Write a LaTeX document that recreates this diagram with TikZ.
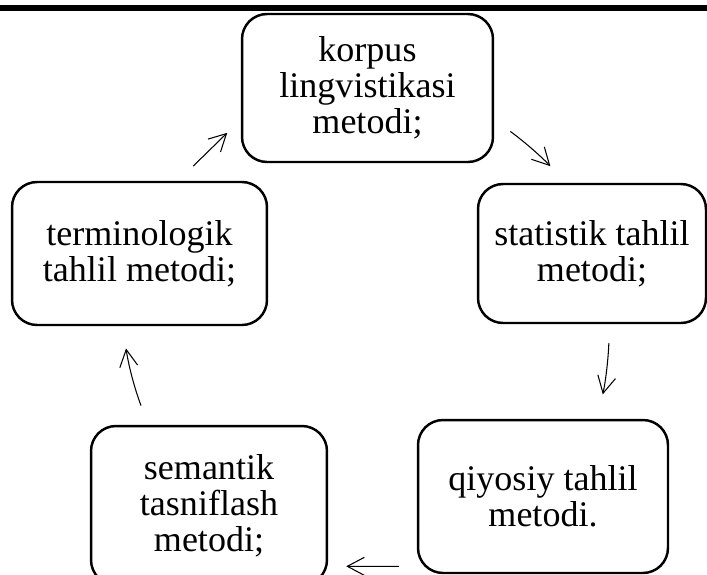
\documentclass[tikz,border=0pt]{standalone}
\usepackage{fontspec}
\setmainfont{Liberation Serif}
\usetikzlibrary{arrows.meta, positioning, calc}

\begin{document}
\begin{tikzpicture}[
  x=0.02cm, y=-0.02cm,
  % Base style for boxes
  methodbox/.style={draw, line width=1.4pt, rounded corners=0.5cm, align=center,
    inner sep=2pt, font=\fontsize{20.5}{20.5}\selectfont},
  % Thin arrows between boxes
  flowarrow/.style={-{Straight Barb[length=3.4mm, width=3.6mm]}, line width=0.6pt},
]

  % Page frame and top rule
  \path[use as bounding box] (0,0) rectangle (707,575);
  \draw[line width=0.11cm] (0,8) -- (707,8);

  % Method boxes
  \node[methodbox, minimum width=5.02cm, minimum height=2.96cm] (korpus) at (367.5,88) {korpus\\lingvistikasi\\metodi;};
  \node[methodbox, minimum width=4.56cm, minimum height=2.78cm] (statistik) at (592,253.5) {statistik tahlil\\metodi;};
  \node[methodbox, minimum width=5.0cm, minimum height=3.06cm] (qiyosiy) at (543,496.5) {qiyosiy tahlil\\metodi.};
  \node[methodbox, minimum width=4.72cm, minimum height=3.18cm] (semantik) at (209,505.5) {semantik\\tasniflash\\metodi;};
  \node[methodbox, minimum width=5.1cm, minimum height=2.86cm] (terminologik) at (139.5,253.5) {terminologik\\tahlil metodi;};

  % Arrows round the cycle
  \draw[flowarrow, shorten <=0.42cm, shorten >=0.38cm] (terminologik.62) -- (korpus.194);
  \draw[flowarrow, shorten <=0.4cm, shorten >=0.46cm] (korpus.346) to[bend left=5] (statistik.110);
  \draw[flowarrow, shorten <=0.38cm, shorten >=0.5cm] (statistik.284) to[bend left=5] (qiyosiy.55);
  \draw[flowarrow, shorten <=0.36cm, shorten >=0.36cm] (qiyosiy.209) -- (semantik.333);
  \draw[flowarrow, shorten <=0.41cm, shorten >=0.45cm] (semantik.127) to[bend left=6] (terminologik.257);

\end{tikzpicture}
\end{document}
